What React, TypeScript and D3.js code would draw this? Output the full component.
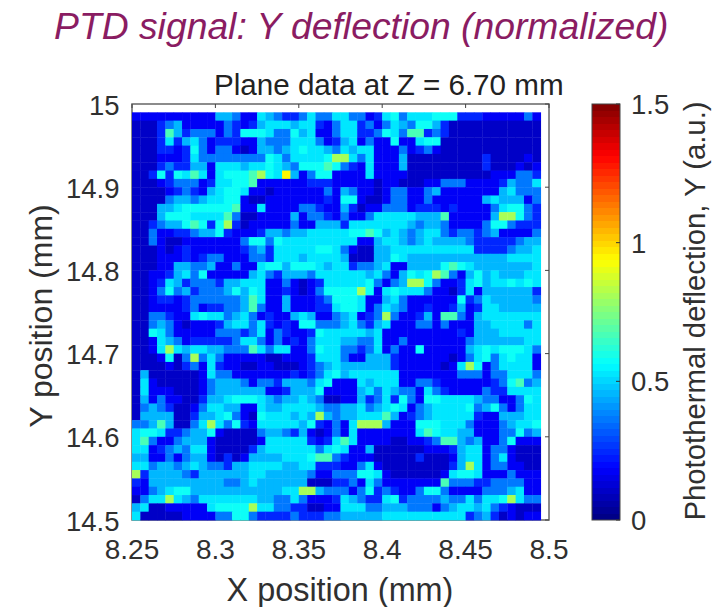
import React from "react";
import * as d3 from "d3";

const leftCols = [
"1111111111443115432235335","0002341111132124555455213","0002742333132666533645113","0002524531222114333555312",
"0002212631331014434565543","0001112533333333653555568","0002322441555455654366676","0026265751566678659413661",
"0001233312556671111112221","0000123214566511011111131","0000344345566100111111121","0004456666667115111133211",
"0004666555573001111413321","0023446762682011111311444","0031122344621112443445555","0031001111111366365555555",
"0001012111111234255555665","0001112123311133255545555","0001144334113115664666545","0011245361111145324443555",
"0012542333244555113101255","0013634233346465112101366","0012212333333475114111236","0011112312233473114111225",
"0033211565534531211454113","0034310111245535212166333","0065311111333235132112655","0015431222223553131213555",
"0015854554433375355113655","0001603835311111001112555","0000102315211001100012345","0400000015331111111212356",
"0510000013444313324443561","0511100013444444112444611","0413110024456665434454300","0343200135544115445555433",
"0444400244563106555454843","3347400358536215555546213","5665223446100003443241013","5731134441000001555552125",
"5512343551000024555555356","4411313441020144445556773","5534434543324455554455222","8244443244444455444443113",
"2144444444433454444440002","1134566444444444445588433","0355854355555554433531112","4500111115666685533220011",
"5000001111336632222322233",
];
const rightCols = [
"533125635556662221111131","552313543664200000000000","552236537723200000000000","451311611566000000000000",
"545511131231000000000000","853511140000000002000010","321511140000000002000101","111511110000000000111332",
"111101100011333111124335","431101331134111111145333","661001331131111114544413","420113331222121111356632",
"311355555444711111488632","255555554344311113663222","566764543455323323411113","551145543454444322222344",
"310044555555555522223445","400044654444444444445555","523345114444676544444445","555453146568731464544455",
"555631348863112564556565","668615655531102514444442","665114531111116235444443","665135431121124125544444",
"451238311241773145555555","453245111331311144555535","555451111111112144455555","443351131111111344444455",
"332351311611111456566653","311444211111101356356551","444444211111015861355551","455555511111113331335553",
"115455511332111111236734","114535433153211113225555","114235263166555543311365","445345651345555634631355",
"445557412345555521144455","158884111666555311134556","151111111576554411133634","751111001123774341136111",
"511400000011124551331000","211100000200014551351000","113510000000024851331100","336651000000156651113111",
"231531111111733322333311","313623211366311113334511","543225623333433535568533","555334443331345545321000",
"444445555555555234201011",
];
// value of each digit level
const levelValues = [0.10, 0.17, 0.25, 0.36, 0.46, 0.53, 0.58, 0.66, 0.80, 0.94];
const xTicks = [8.25, 8.3, 8.35, 8.4, 8.45, 8.5];
const yTicks = [14.5, 14.6, 14.7, 14.8, 14.9, 15];
const cbTicks = [0, 0.5, 1, 1.5];
const xStep = 0.005;
const yStep = 0.01;

const FONT = "'Liberation Sans', Arial, sans-serif";
const TEXT = "#303030";

function jet(t: number) {
  const c = (x: number) => Math.round(255 * Math.max(0, Math.min(1, x)));
  const r = 1.5 - Math.abs(4 * t - 3);
  const g = 1.5 - Math.abs(4 * t - 2);
  const b = 1.5 - Math.abs(4 * t - 1);
  return `rgb(${c(r)},${c(g)},${c(b)})`;
}

export default function App() {
  const x = d3.scaleLinear().domain([8.25, 8.5]).range([132, 549]);
  const y = d3.scaleLinear().domain([14.5, 15]).range([520, 104]);
  const cb = d3.scaleLinear().domain([0, 1.5]).range([520, 104]);
  const color = d3.scaleQuantize<string>().domain([0, 1.5]).range(d3.range(64).map((i) => jet((i + 0.5) / 64)));
  const rows = leftCols.map((l, i) => (l + rightCols[i]).split("").map((d) => levelValues[+d]));
  const cbSteps = d3.range(64).map((i) => (i * 1.5) / 64);

  return (
    <svg width={713} height={607} style={{ position: "absolute", left: 0, top: 0, background: "#fff" }} fontFamily={FONT}>
      <defs>
        <filter id="soft" x="-2%" y="-2%" width="104%" height="104%">
          <feGaussianBlur stdDeviation={0.55} />
        </filter>
      </defs>
      <text x={54} y={39} fontSize={37.3} fontStyle="italic" fill="#8a1c62">
        PTD signal: Y deflection (normalized)
      </text>
      <text x={214} y={95} fontSize={29.6} fill="#222">
        Plane data at Z = 6.70 mm
      </text>
      <rect x={132} y={104} width={417} height={416} fill="none" stroke="#666" strokeWidth={1.5} />
      <g filter="url(#soft)">
        {rows.map((row, r) =>
          row.map((v, c) => (
            <rect
              key={`${r}-${c}`}
              x={x(8.25 + c * xStep)}
              y={y(14.5 + (rows.length - r) * yStep)}
              width={x(8.25 + xStep) - x(8.25) + 0.4}
              height={y(14.5) - y(14.5 + yStep) + 0.4}
              fill={color(v)}
            />
          ))
        )}
      </g>
      {xTicks.map((t) => (
        <g key={t}>
          <line x1={x(t)} x2={x(t)} y1={104} y2={108} stroke="#444" />
          <text x={x(t)} y={559} textAnchor="middle" fontSize={28} fill={TEXT}>{d3.format(".2~f")(t)}</text>
        </g>
      ))}
      {yTicks.map((t) => (
        <g key={t}>
          <line x1={549} x2={545} y1={y(t)} y2={y(t)} stroke="#444" />
          <text x={119.5} y={y(t) + 10.5} textAnchor="end" fontSize={27.5} fill={TEXT}>{d3.format(".1~f")(t)}</text>
        </g>
      ))}
      <text x={340} y={601} textAnchor="middle" fontSize={32.4} fill={TEXT}>X position (mm)</text>
      <text transform="translate(52,316) rotate(-90)" textAnchor="middle" fontSize={32} fill={TEXT}>Y position (mm)</text>
      <g shapeRendering="crispEdges">
        {cbSteps.map((v) => (
          <rect key={v} x={592} y={cb(v + 1.5 / 64)} width={28} height={cb(0) - cb(1.5 / 64) + 0.4} fill={color(v + 0.001)} />
        ))}
      </g>
      <rect x={592} y={104} width={28} height={416} fill="none" stroke="#444" strokeWidth={1} />
      {cbTicks.map((t) => (
        <g key={t}>
          <line x1={616} x2={620} y1={cb(t)} y2={cb(t)} stroke="#333" />
          <text x={631} y={cb(t) + 10} fontSize={27.5} fill={TEXT}>{t}</text>
        </g>
      ))}
      <text transform="translate(705,311) rotate(-90)" textAnchor="middle" fontSize={29.3} fill={TEXT}>
        Photothermal deflection, Y (a.u.)
      </text>
    </svg>
  );
}
